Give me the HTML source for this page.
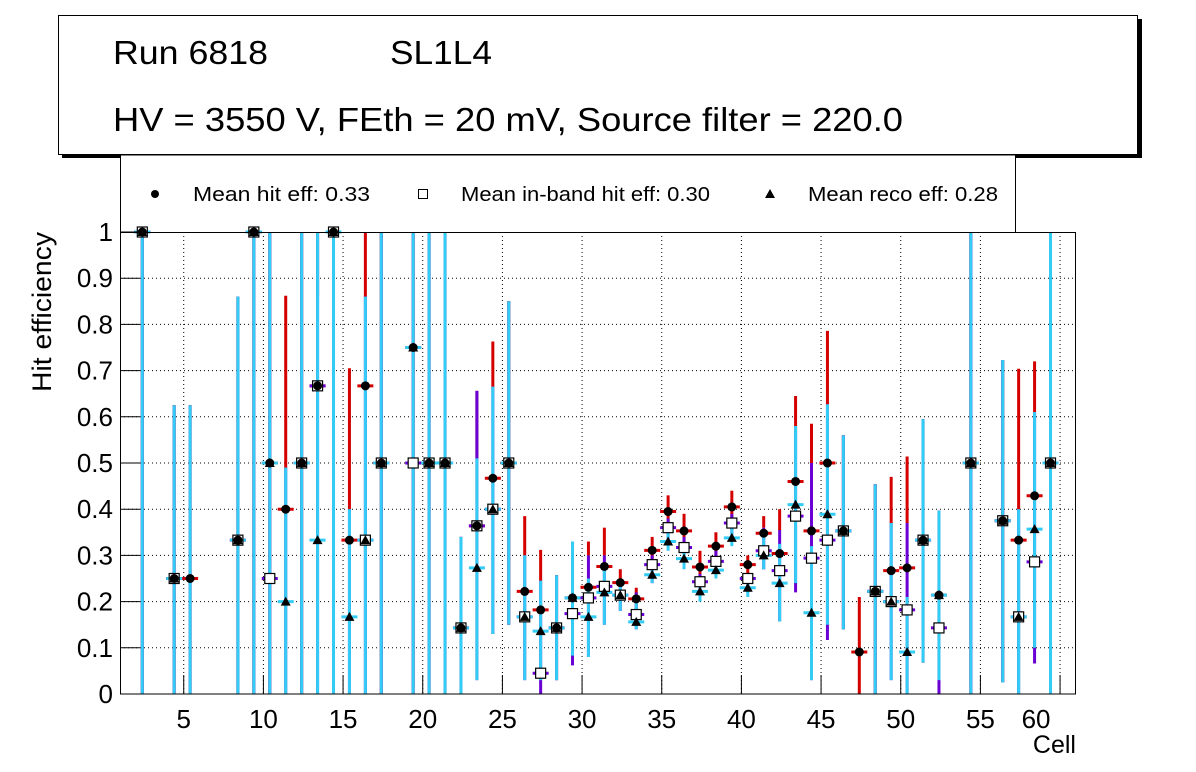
<!DOCTYPE html>
<html><head><meta charset="utf-8">
<style>
html,body{margin:0;padding:0;background:#fff;}
svg{display:block;font-family:"Liberation Sans",Arial,sans-serif;}
</style></head>
<body>
<svg id="chart" width="1196" height="772" viewBox="0 0 1196 772" xmlns="http://www.w3.org/2000/svg">
  <rect x="0" y="0" width="1196" height="772" fill="#fff"/>
  <g>
    <rect x="62" y="19" width="1080" height="139" fill="#000"/>
    <rect x="58.5" y="15.5" width="1079" height="139" fill="#fff" stroke="#000" stroke-width="1"/>
    <text x="113" y="64" font-size="33" textLength="155" lengthAdjust="spacingAndGlyphs">Run 6818</text>
    <text x="390" y="64" font-size="33" textLength="102" lengthAdjust="spacingAndGlyphs">SL1L4</text>
    <text x="113" y="131" font-size="33" textLength="790" lengthAdjust="spacingAndGlyphs">HV = 3550 V, FEth = 20 mV, Source filter = 220.0</text>
  </g>
  <g>
    <rect x="120.5" y="155" width="895" height="78" fill="#fff" stroke="#000" stroke-width="1"/>
    <g>
      <circle cx="155" cy="194" r="4" fill="#000"/>
      <text x="193" y="201" font-size="20" textLength="177" lengthAdjust="spacingAndGlyphs">Mean hit  eff: 0.33</text>
    </g>
    <g>
      <rect x="418.5" y="189.5" width="9" height="9" fill="#fff" stroke="#000"/>
      <text x="461" y="201" font-size="20" textLength="249" lengthAdjust="spacingAndGlyphs">Mean in-band hit eff: 0.30</text>
    </g>
    <g>
      <polygon points="770,189 775,198 765,198" fill="#000"/>
      <text x="808" y="201" font-size="20" textLength="190" lengthAdjust="spacingAndGlyphs">Mean reco eff: 0.28</text>
    </g>
  </g>
  <rect x="120" y="232" width="956" height="462" fill="#fff"/>
  <g id="grid"></g>
  <g id="bars"></g>
  <g id="markers"></g>
  <rect x="120.5" y="232.5" width="955" height="461.5" fill="none" stroke="#000" stroke-width="1"/>
  <g id="axes"></g>
  <text x="51" y="312" font-size="27" text-anchor="middle" textLength="160" lengthAdjust="spacingAndGlyphs" transform="rotate(-90 51 312)">Hit efficiency</text>
  <text x="1076" y="753" font-size="25" text-anchor="end">Cell</text>
</svg>
<script>
const cells   = [2,4,5,8,9,10,11,12,13,14,15,16,17,19,20,21,22,23,24,25,26,27,28,29,30,31,32,33,34,35,36,37,38,39,40,41,42,43,44,45,46,47,48,49,50,51,52,54,56,57,58,59];
const hitEff  = [1,0.25,0.25,0.333,1,0.5,0.4,0.5,0.667,1,0.333,0.667,0.5,0.75,0.5,0.5,0.143,0.364,0.467,0.5,0.222,0.182,0.143,0.208,0.231,0.276,0.241,0.206,0.311,0.395,0.353,0.275,0.32,0.405,0.28,0.348,0.304,0.46,0.353,0.5,0.353,0.091,0.222,0.267,0.273,0.333,0.214,0.5,0.375,0.333,0.429,0.5];
const hitLo   = [0,0,0,0,0,0,0.49,0,0.86,0,0.40,0.86,0,0,0,0,0,0.51,0.665,0.15,0.30,0.245,0.03,0.08,0.30,0.30,0.25,0.15,0.27,0.36,0.32,0.24,0.29,0.37,0.26,0.36,0.355,0.58,0.50,0.627,0.14,0,0,0.37,0.37,0.068,0.03,0,0.025,0.40,0.61,0];
const hitHi   = [1,0.625,0.625,0.86,1,1,0.862,1,1,1,0.705,1,1,1,1,1,0.34,0.656,0.763,0.85,0.385,0.312,0.257,0.33,0.33,0.36,0.27,0.23,0.34,0.43,0.39,0.31,0.35,0.44,0.30,0.385,0.40,0.645,0.585,0.786,0.56,0.21,0.454,0.47,0.514,0.595,0.397,1,0.723,0.704,0.72,1];
const inbEff  = [1,0.25,null,0.333,1,0.25,null,0.5,0.667,1,null,0.333,0.5,0.5,0.5,0.5,0.143,0.364,0.4,0.5,0.167,0.045,0.143,0.174,0.208,0.233,0.214,0.172,0.28,0.36,0.317,0.243,0.287,0.37,0.25,0.31,0.267,0.385,0.294,0.333,0.353,null,0.222,0.2,0.182,0.333,0.143,0.5,0.375,0.167,0.286,0.5];
const inbLo   = [0,0,0,0,0,0,0,0,0,0,0,0,0,0,0,0,0,0.03,0.13,0.15,0.03,0,0.03,0.062,0.08,0.15,0.18,0.14,0.24,0.33,0.29,0.21,0.26,0.34,0.22,0.27,0.157,0.22,0.03,0.117,0.14,0,0,0.03,0,0.068,0,0,0.025,0,0.066,0];
const inbHi   = [1,0.625,0.625,0.86,1,1,0.49,1,1,1,0.40,0.86,1,1,1,1,0.34,0.656,0.665,0.85,0.30,0.245,0.257,0.33,0.30,0.30,0.25,0.22,0.30,0.38,0.34,0.26,0.31,0.39,0.26,0.36,0.355,0.58,0.50,0.627,0.56,0,0.454,0.37,0.37,0.595,0.397,1,0.723,0.40,0.61,1];
const recoEff = [1,0.25,null,0.333,1,0.5,0.2,0.5,0.333,1,0.167,0.333,0.5,0.75,0.5,0.5,0.143,0.273,0.4,0.5,0.167,0.136,0.143,0.208,0.167,0.22,0.214,0.156,0.258,0.33,0.293,0.222,0.268,0.338,0.23,0.3,0.24,0.41,0.176,0.389,0.353,null,0.222,0.2,0.091,0.333,0.214,0.5,0.375,0.167,0.357,0.5];
const recoLo  = [0,0,0,0,0,0,0,0,0,0,0,0,0,0,0,0,0,0.03,0.13,0.15,0.03,0.03,0.03,0.083,0.08,0.15,0.18,0.14,0.24,0.31,0.27,0.20,0.25,0.32,0.21,0.27,0.157,0.24,0.03,0.15,0.14,0,0,0.03,0,0.068,0.03,0,0.025,0,0.10,0];
const recoHi  = [1,0.625,0.625,0.86,1,1,0.49,1,1,1,0.40,0.86,1,1,1,1,0.34,0.51,0.665,0.85,0.30,0.245,0.257,0.33,0.25,0.27,0.25,0.21,0.29,0.36,0.32,0.24,0.29,0.36,0.25,0.34,0.325,0.58,0.32,0.627,0.56,0,0.454,0.37,0.21,0.595,0.397,1,0.723,0.40,0.61,1];
const xTicks  = [5,10,15,20,25,30,35,40,45,50,55,60];
const xTickLabels = ["5","10","15","20","25","30","35","40","45","50","55","60"];
const yTicks  = [0,0.1,0.2,0.3,0.4,0.5,0.6,0.7,0.8,0.9,1];
const yTickLabels = ["0","0.1","0.2","0.3","0.4","0.5","0.6","0.7","0.8","0.9","1"];

const X0 = 120, X1 = 1076, Y0 = 694, Y1 = 232, XMIN = 1, XMAX = 61;
function xs(v){ return X0 + (v - XMIN) / (XMAX - XMIN) * (X1 - X0); }
function ys(v){ return Y0 - v * (Y0 - Y1); }
const NS = "http://www.w3.org/2000/svg";
function mk(tag, attrs, parent){ const e = document.createElementNS(NS, tag); for (const k in attrs) e.setAttribute(k, attrs[k]); parent.appendChild(e); return e; }

const grid = document.getElementById('grid');
const axes = document.getElementById('axes');
xTicks.forEach((t, i) => {
  const x = xs(t);
  const gl = mk('line', {x1:x, x2:x, y1:Y1, y2:Y0, stroke:'#000', 'stroke-width':1, 'stroke-dasharray':'1,3'}, grid);
  
  
  const tk = mk('line', {x1:x, x2:x, y1:Y0, y2:Y0 - 19, stroke:'#000', 'stroke-width':1}, axes);
  
  
  const lx = (i === xTicks.length - 1) ? x - 24 : x;
  const lb = mk('text', {x:lx, y:728, 'font-size':26, 'text-anchor':'middle'}, axes);
  lb.textContent = xTickLabels[i];
  
  
});
yTicks.forEach((t, i) => {
  const y = ys(t);
  if (t > 0 && t < 1) {
    const gl = mk('line', {x1:X0, x2:X1, y1:y, y2:y, stroke:'#000', 'stroke-width':1, 'stroke-dasharray':'1,3'}, grid);
    
    
  }
  const tk = mk('line', {x1:X0, x2:X0 + 20, y1:y, y2:y, stroke:'#000', 'stroke-width':1}, axes);
  
  
  const lb = mk('text', {x:113, y:y + 9, 'font-size':26, 'text-anchor':'end'}, axes);
  lb.textContent = yTickLabels[i];
  
  
});

const bars = document.getElementById('bars');
const markers = document.getElementById('markers');
const RED = '#d40000', PURPLE = '#6a00d4', CYAN = '#33ccf5';
function series(vals, lo, hi, color, name){
  cells.forEach((c, i) => {
    const x = xs(c + 0.4);
    if (hi[i] > lo[i]) {
      const b = mk('line', {x1:x, x2:x, y1:ys(lo[i]), y2:ys(hi[i]), stroke:color, 'stroke-width':3}, bars);
      
      
    }
    if (vals[i] !== null) {
      const y = ys(vals[i]);
      const cap = mk('line', {x1:x - 8, x2:x + 8, y1:y, y2:y, stroke:color, 'stroke-width':3}, bars);
      
      
    }
  });
}
series(hitEff, hitLo, hitHi, RED, 'hit');
series(inbEff, inbLo, inbHi, PURPLE, 'inband');
series(recoEff, recoLo, recoHi, CYAN, 'reco');

cells.forEach((c, i) => {
  const x = xs(c + 0.4);
  if (inbEff[i] !== null) {
    const y = ys(inbEff[i]);
    const s = mk('rect', {x:x - 5, y:y - 5, width:10, height:10, fill:'#fff', stroke:'#000', 'stroke-width':1.2}, markers);
    
    
  }
  if (hitEff[i] !== null) {
    const d = mk('circle', {cx:x, cy:ys(hitEff[i]), r:4.5, fill:'#000'}, markers);
    
    
  }
  if (recoEff[i] !== null) {
    const y = ys(recoEff[i]);
    const t = mk('polygon', {points:`${x},${y-5} ${x+5},${y+4} ${x-5},${y+4}`, fill:'#000'}, markers);
    
    
  }
});
</script>
</body></html>
